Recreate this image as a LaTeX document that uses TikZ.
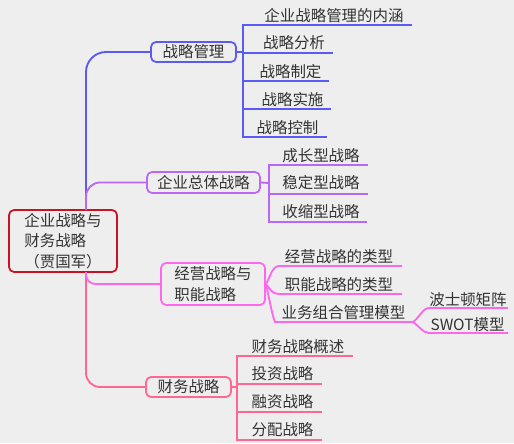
\documentclass[tikz,border=0pt]{standalone}
\usepackage{fontspec}
\setmainfont{Noto Sans CJK SC}
\definecolor{bg}{HTML}{EEEEEE}
\definecolor{txt}{HTML}{333333}
\definecolor{cblue}{HTML}{5A5AF5}
\definecolor{cpurple}{HTML}{BB66F5}
\definecolor{cmag}{HTML}{FF66EE}
\definecolor{cpink}{HTML}{FF6690}
\definecolor{cred}{HTML}{CC1122}
\begin{document}
\begin{tikzpicture}[x=0.75pt,y=-0.75pt,
  every node/.style={font=\fontsize{11.6pt}{15.5pt}\selectfont, text=txt, inner sep=0pt},
  box/.style={draw, rounded corners=3.75pt, line width=1.3pt},
  leaf/.style={},
  conn/.style={line width=1.4pt}]
\path[use as bounding box, fill=bg] (0,0) rectangle (514,443);

% root
\node[box, draw=cred, minimum width=81pt, minimum height=46.5pt, align=left] (root) at (63,241) {企业战略与\\财务战略\\（贾国军）};
\coordinate (rt) at (86,210);
\coordinate (rb) at (86,272);

% main branches
\node[box, draw=cblue, minimum width=63.75pt, minimum height=15pt] (b1) at (193.5,52) {战略管理};
\node[box, draw=cpurple, minimum width=84.75pt, minimum height=15.75pt] (b2) at (203.5,182.5) {企业总体战略};
\node[box, draw=cmag, minimum width=78pt, minimum height=31.5pt, align=left] (b3) at (213,284) {经营战略与\\职能战略};
\node[box, draw=cpink, minimum width=63.75pt, minimum height=15pt] (b4) at (188.5,387) {财务战略};

\draw[conn, cblue, rounded corners=15pt] (rt) |- (b1.west);
\draw[conn, cpurple, rounded corners=10.5pt] (rt) |- (b2.west);
\draw[conn, cpink, rounded corners=10.5pt] (rb) |- (b4.west);
\draw[conn, cmag, rounded corners=7pt] (rb) |- (b3.west);

% branch 1 leaves
\node (n11) at (334,16) {企业战略管理的内涵};
\node (n12) at (294,43) {战略分析};
\node (n13) at (290.5,72) {战略制定};
\node (n14) at (292.5,100) {战略实施};
\node (n15) at (287.5,128) {战略控制};
\coordinate (v1) at (243,52);
\draw[conn, cblue] (b1.east) -- (v1);
\draw[conn, cblue] (412,25) -- (243,25) -- (243,137) -- (327,137);
\draw[conn, cblue] (243,53) -- (333,53);
\draw[conn, cblue] (243,81) -- (329,81);
\draw[conn, cblue] (243,109) -- (331,109);

% branch 2 leaves
\node (n21) at (321,156) {成长型战略};
\node (n22) at (321,183) {稳定型战略};
\node (n23) at (321,212) {收缩型战略};
\coordinate (v2) at (269,183);
\draw[conn, cpurple] (b2.east) -- (v2);
\draw[conn, cpurple] (368,165) -- (269,165) -- (269,222) -- (367,222);
\draw[conn, cpurple] (269,194) -- (368,194);

% branch 3 leaves
\node (n31) at (339,257) {经营战略的类型};
\node (n32) at (339,285) {职能战略的类型};
\node (n33) at (343.5,313) {业务组合管理模型};
\node (n34) at (468,300) {波士顿矩阵};
\node (n35) at (467.5,325) {SWOT模型};
\draw[conn, cmag] (b3.east) .. controls (270,278) and (272,266) .. (279,266) -- (402,266);
\draw[conn, cmag] (b3.east) .. controls (270,289) and (272,294) .. (279,294) -- (402,294);
\draw[conn, cmag] (b3.east) .. controls (268,292) and (272,315) .. (275,322) -- (413,322);
\coordinate (v3) at (413,322);
\draw[conn, cmag] (v3) .. controls (419,318) and (423,308) .. (429,308) -- (508,308);
\draw[conn, cmag] (v3) .. controls (419,326) and (423,333) .. (429,333) -- (508,333);

% branch 4 leaves
\node (n41) at (298,347) {财务战略概述};
\node (n42) at (282.5,374) {投资战略};
\node (n43) at (282.5,402) {融资战略};
\node (n44) at (282.5,430) {分配战略};
\coordinate (v4) at (237,387);
\draw[conn, cpink] (b4.east) -- (v4);
\draw[conn, cpink] (353,356) -- (237,356) -- (237,440) -- (322,440);
\draw[conn, cpink] (237,384) -- (322,384);
\draw[conn, cpink] (237,412) -- (322,412);
\end{tikzpicture}
\end{document}
